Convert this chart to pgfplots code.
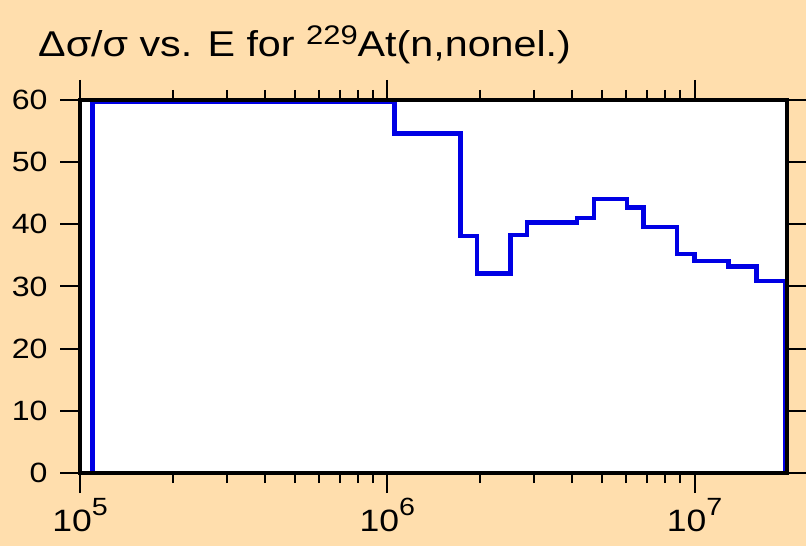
\documentclass[border=0pt]{standalone}
\usepackage{fontspec}
\setmainfont{Liberation Sans}
\usepackage{pgfplots}
\pgfplotsset{compat=1.18}
\definecolor{bgwheat}{RGB}{255,222,173}
\definecolor{lineblue}{RGB}{0,0,228}
\newcommand{\wide}[1]{\scalebox{1.15}[1]{#1}}
\newcommand{\tenp}[1]{\wide{10\raisebox{16bp}{\fontsize{25}{25}\selectfont #1}}}
\begin{document}
\begin{tikzpicture}
\fill[bgwheat] (-80bp,-73bp) rectangle (726bp,473bp);
\begin{axis}[
  at={(0,0)}, anchor=south west,
  scale only axis, width=707bp, height=373bp,
  xmode=log, xmin=1e5, xmax=2e7, ymin=0, ymax=60,
  axis background/.style={fill=white},
  axis on top,
  axis line style={line width=4.2bp},
  tick align=outside,
  major tick length=20bp, minor tick length=10bp,
  every tick/.style={line width=2bp, black},
  xtick={1e5,1e6,1e7},
  xticklabels={\tenp{5},\tenp{6},\tenp{7}},
  ytick={0,10,20,30,40,50,60},
  yticklabels={\wide{0},\wide{10},\wide{20},\wide{30},\wide{40},\wide{50},\wide{60}},
  ticklabel style={font=\fontsize{28}{28}\selectfont},
  xticklabel style={font=\fontsize{31}{31}\selectfont, yshift=-2bp},
  yticklabel style={xshift=-9bp},
]
\addplot[const plot, lineblue, line width=4.5bp] coordinates {
(1.1e5,0) (1.1e5,59.65) (1.055e6,54.6) (1.73e6,38.1) (1.96e6,32.1) (2.52e6,38.3)
(2.85e6,40.3) (4.15e6,41.0) (4.7e6,44.05) (6.03e6,42.7) (6.83e6,39.6)
(8.77e6,35.2) (1e7,34.1) (1.29e7,33.2) (1.59e7,30.9) (1.975e7,30.9) (1.975e7,0)
};
\end{axis}
\node[anchor=base west, inner sep=0pt, font=\fontsize{36}{36}\selectfont] at (-42bp,416bp)
  {\wide{Δσ/σ vs. E for \raisebox{12bp}{\fontsize{27}{27}\selectfont 229}At(n,nonel.)}};
\pgfresetboundingbox
\path (-80bp,-73bp) rectangle (726bp,473bp);
\end{tikzpicture}
\end{document}
